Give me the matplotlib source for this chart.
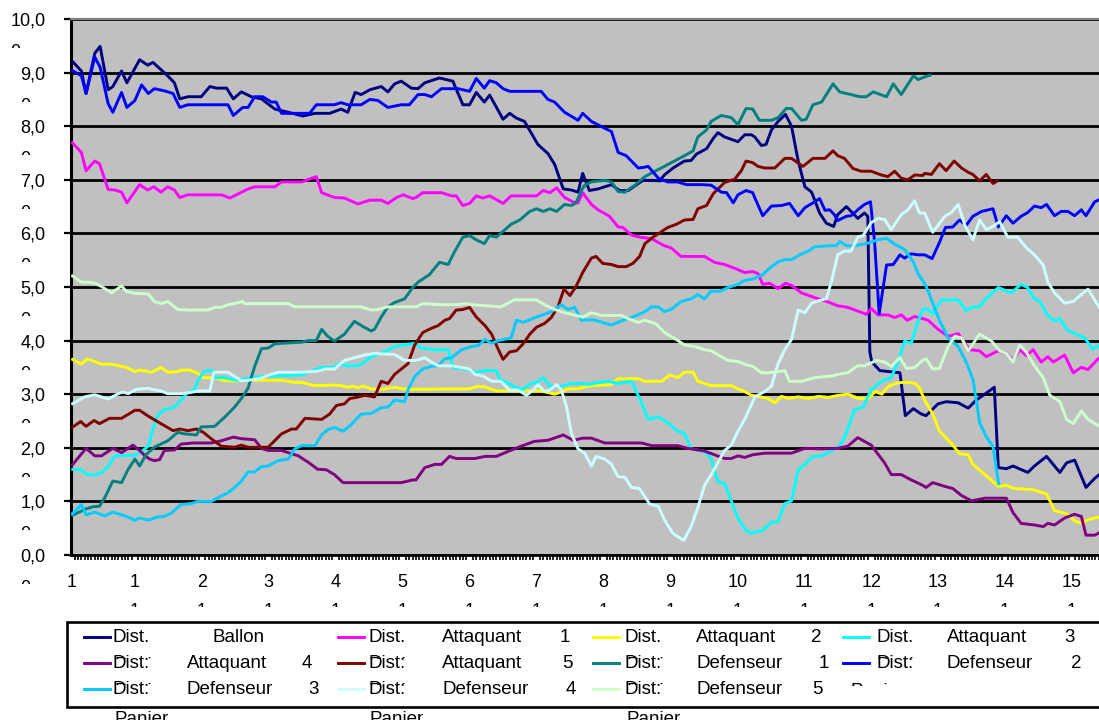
import numpy as np
import matplotlib
matplotlib.use('Agg')
import matplotlib.pyplot as plt
from matplotlib.lines import Line2D
from matplotlib.patches import Rectangle
from matplotlib.transforms import Bbox

W, H = 1099, 720
plt.rcParams['font.family'] = ['Liberation Sans', 'DejaVu Sans']

# (temps, distance) pour chaque joueur
ballon = [(0.05,9.23),(0.20,9.03),(0.27,8.61),(0.40,9.36),(0.48,9.49),(0.60,8.68),(0.67,8.74),(0.80,9.03),(0.88,8.81),
          (1.07,9.24),(1.19,9.14),(1.27,9.19),(1.49,8.94),(1.59,8.81),(1.67,8.51),(1.79,8.55),(1.99,8.55),(2.12,8.74),
          (2.22,8.71),(2.37,8.71),(2.47,8.51),(2.59,8.64),(2.74,8.55),(2.89,8.51),(3.09,8.32),(3.29,8.26),(3.51,8.19),
          (3.69,8.24),(3.91,8.24),(4.08,8.32),(4.18,8.26),(4.29,8.63),(4.38,8.59),(4.51,8.68),(4.68,8.74),(4.78,8.64),
          (4.88,8.79),(4.98,8.84),(5.13,8.71),(5.23,8.70),(5.33,8.81),(5.55,8.90),(5.75,8.84),(5.90,8.40),(6.00,8.40),
          (6.10,8.63),(6.22,8.45),(6.30,8.58),(6.50,8.13),(6.60,8.24),(6.70,8.15),(6.82,8.09),(7.02,7.66),(7.17,7.49),
          (7.27,7.29),(7.40,6.83),(7.52,6.81),(7.62,6.77),(7.69,7.12),(7.79,6.80),(7.92,6.83),(8.12,6.91),(8.24,6.80),
          (8.37,6.80),(8.59,6.99),(8.74,6.99),(8.84,6.98),(8.91,7.09),(9.04,7.22),(9.21,7.35),(9.31,7.36),(9.39,7.48),
          (9.54,7.58),(9.64,7.77),(9.71,7.88),(9.81,7.80),(10.01,7.71),(10.11,7.84),(10.21,7.84),(10.26,7.80),(10.36,7.64),
          (10.43,7.66),(10.51,7.93),(10.61,8.09),(10.72,8.22),(10.81,8.00),(10.91,7.35),(11.01,6.87),(11.11,6.77),
          (11.23,6.38),(11.33,6.19),(11.44,6.13),(11.50,6.35),(11.63,6.50),(11.80,6.28),(11.90,6.38),(11.95,6.32),
          (11.98,3.79),(12.01,3.60),(12.13,3.44),(12.43,3.40),(12.51,2.60),(12.63,2.73),(12.75,2.63),(12.82,2.60),
          (13.00,2.82),(13.12,2.86),(13.30,2.84),(13.45,2.74),(13.57,2.89),(13.72,3.02),(13.84,3.13),(13.90,1.63),
          (14.02,1.61),(14.12,1.66),(14.34,1.54),(14.44,1.66),(14.62,1.84),(14.82,1.54),(14.92,1.72),(15.04,1.77),
          (15.21,1.26),(15.34,1.43),(15.45,1.54)]

attaquant_1 = [(0.05,7.71),(0.20,7.51),(0.27,7.17),(0.40,7.35),(0.47,7.30),(0.60,6.82),(0.70,6.81),(0.80,6.77),(0.88,6.57),
               (1.07,6.91),(1.19,6.81),(1.28,6.87),(1.39,6.77),(1.49,6.87),(1.59,6.81),(1.67,6.67),(1.79,6.72),(1.99,6.72),
               (2.29,6.72),(2.42,6.66),(2.61,6.78),(2.69,6.83),(2.79,6.87),(3.09,6.87),(3.19,6.96),(3.49,6.96),(3.71,7.06),
               (3.79,6.76),(3.98,6.67),(4.13,6.66),(4.33,6.55),(4.51,6.62),(4.68,6.62),(4.78,6.56),(4.91,6.67),(5.01,6.72),
               (5.15,6.65),(5.20,6.67),(5.30,6.76),(5.58,6.76),(5.73,6.70),(5.80,6.70),(5.90,6.52),(6.00,6.56),(6.10,6.70),
               (6.20,6.66),(6.30,6.70),(6.50,6.56),(6.62,6.70),(7.00,6.70),(7.10,6.80),(7.20,6.76),(7.30,6.85),(7.42,6.67),
               (7.57,6.57),(7.62,6.57),(7.69,6.76),(7.82,6.54),(7.92,6.44),(8.09,6.32),(8.22,6.12),(8.29,6.11),(8.42,5.97),
               (8.54,5.93),(8.72,5.90),(8.91,5.77),(9.01,5.73),(9.16,5.57),(9.51,5.57),(9.66,5.46),(9.81,5.42),(9.96,5.35),
               (10.11,5.27),(10.23,5.29),(10.31,5.25),(10.38,5.05),(10.48,5.07),(10.61,4.97),(10.72,5.07),(10.81,5.03),
               (10.96,4.89),(11.16,4.80),(11.36,4.72),(11.50,4.65),(11.65,4.62),(11.78,4.56),(11.93,4.49),(12.00,4.60),
               (12.10,4.48),(12.25,4.48),(12.35,4.43),(12.45,4.48),(12.54,4.38),(12.65,4.45),(12.77,4.41),(12.85,4.38),
               (13.00,4.21),(13.15,4.08),(13.30,4.13),(13.47,3.83),(13.62,3.81),(13.72,3.70),(13.90,3.81),(14.02,3.76),
               (14.12,3.63),(14.22,3.83),(14.32,3.72),(14.42,3.83),(14.54,3.60),(14.64,3.70),(14.72,3.60),(14.89,3.73),
               (15.02,3.40),(15.14,3.50),(15.24,3.46),(15.39,3.66),(15.45,3.70)]

attaquant_2 = [(0.05,3.66),(0.20,3.56),(0.29,3.66),(0.50,3.56),(0.65,3.56),(0.87,3.50),(1.00,3.42),(1.07,3.45),(1.25,3.41),
               (1.39,3.50),(1.49,3.41),(1.64,3.42),(1.69,3.45),(1.82,3.45),(1.94,3.39),(2.02,3.31),(2.22,3.30),(2.34,3.25),
               (2.49,3.25),(2.64,3.26),(2.99,3.26),(3.19,3.26),(3.39,3.22),(3.49,3.22),(3.69,3.16),(4.03,3.17),(4.18,3.13),
               (4.26,3.15),(4.33,3.12),(4.41,3.15),(4.53,3.10),(4.63,3.09),(4.73,3.10),(4.88,3.13),(5.00,3.10),(5.15,3.09),
               (6.00,3.10),(6.10,3.14),(6.22,3.14),(6.33,3.09),(6.42,3.06),(6.82,3.06),(7.07,3.06),(7.27,3.00),(7.37,3.04),
               (7.47,3.10),(7.62,3.10),(7.77,3.15),(8.12,3.18),(8.22,3.29),(8.52,3.29),(8.62,3.24),(8.87,3.24),(8.99,3.36),
               (9.11,3.31),(9.21,3.41),(9.34,3.41),(9.41,3.24),(9.61,3.16),(9.91,3.16),(10.01,3.10),(10.11,3.05),(10.21,2.98),
               (10.31,2.96),(10.46,2.92),(10.56,2.84),(10.66,2.96),(10.76,2.92),(10.91,2.95),(11.06,2.92),(11.21,2.96),
               (11.36,2.94),(11.51,2.98),(11.66,3.00),(11.81,2.92),(11.96,2.92),(12.06,3.05),(12.16,3.00),(12.26,3.15),
               (12.36,3.20),(12.46,3.22),(12.56,3.22),(12.66,3.20),(12.72,3.12),(12.80,2.89),(12.92,2.63),(13.02,2.31),
               (13.20,2.08),(13.32,1.89),(13.45,1.87),(13.52,1.69),(13.70,1.50),(13.90,1.28),(14.02,1.30),(14.14,1.24),
               (14.42,1.22),(14.62,1.14),(14.74,0.83),(14.92,0.77),(15.04,0.64),(15.14,0.59),(15.24,0.66),(15.45,0.72)]

attaquant_3 = [(0.05,1.60),(0.20,1.59),(0.27,1.51),(0.40,1.49),(0.50,1.54),(0.60,1.65),(0.70,1.85),(0.85,1.86),(1.00,1.86),
               (1.12,1.95),(1.20,2.03),(1.27,2.35),(1.32,2.57),(1.42,2.70),(1.59,2.76),(1.69,2.89),(1.77,3.01),(1.89,3.09),
               (1.94,3.26),(2.04,3.43),(2.12,3.45),(2.17,3.42),(2.19,3.31),(2.34,3.31),(2.44,3.28),(2.54,3.26),(2.69,3.30),
               (2.89,3.33),(2.99,3.33),(3.19,3.35),(3.49,3.36),(3.64,3.43),(3.79,3.50),(3.98,3.50),(4.03,3.57),(4.18,3.53),
               (4.33,3.53),(4.43,3.60),(4.53,3.70),(4.73,3.79),(4.88,3.89),(5.03,3.92),(5.18,3.95),(5.28,3.86),(5.48,3.83),
               (5.68,3.83),(5.75,3.50),(5.93,3.47),(6.03,3.44),(6.10,3.40),(6.20,3.44),(6.40,3.44),(6.45,3.28),(6.57,3.21),
               (6.72,3.11),(6.80,3.09),(6.90,3.19),(7.00,3.22),(7.10,3.31),(7.20,3.15),(7.37,3.15),(7.52,3.20),(7.69,3.20),
               (7.77,3.18),(7.92,3.22),(8.07,3.24),(8.22,3.20),(8.42,3.24),(8.54,2.92),(8.67,2.53),(8.82,2.58),(8.96,2.47),
               (9.11,2.31),(9.21,2.27),(9.31,1.98),(9.51,1.93),(9.61,1.80),(9.71,1.37),(9.81,1.33),(9.91,1.01),(10.01,0.69),
               (10.11,0.49),(10.21,0.40),(10.26,0.43),(10.38,0.46),(10.51,0.61),(10.61,0.62),(10.71,0.96),(10.81,1.01),
               (10.91,1.59),(11.01,1.69),(11.13,1.84),(11.26,1.85),(11.41,1.95),(11.50,1.99),(11.60,2.19),(11.68,2.45),
               (11.75,2.71),(11.88,2.76),(12.00,3.08),(12.15,3.24),(12.30,3.31),(12.40,3.60),(12.50,3.99),(12.60,3.95),
               (12.67,4.25),(12.77,4.58),(12.82,4.60),(12.92,4.50),(13.05,4.76),(13.30,4.76),(13.42,4.56),(13.52,4.63),
               (13.62,4.63),(13.70,4.76),(13.90,4.99),(14.09,4.89),(14.24,5.05),(14.34,4.99),(14.42,4.80),(14.52,4.73),
               (14.62,4.50),(14.74,4.36),(14.82,4.41),(14.92,4.21),(15.04,4.13),(15.19,4.05),(15.31,3.84),(15.45,3.95)]

attaquant_4 = [(0.05,1.66),(0.27,1.99),(0.40,1.85),(0.50,1.85),(0.67,1.99),(0.80,1.91),(0.97,2.05),(1.07,1.95),(1.15,1.85),
               (1.22,1.79),(1.29,1.76),(1.37,1.78),(1.44,1.95),(1.59,1.96),(1.69,2.07),(1.87,2.09),(2.14,2.09),(2.29,2.13),
               (2.47,2.20),(2.59,2.17),(2.79,2.15),(2.89,1.99),(2.99,1.95),(3.19,1.95),(3.44,1.85),(3.59,1.73),(3.73,1.60),
               (3.86,1.59),(3.98,1.50),(4.11,1.35),(4.53,1.35),(4.98,1.35),(5.15,1.40),(5.20,1.40),(5.33,1.63),(5.48,1.69),
               (5.58,1.69),(5.70,1.84),(5.80,1.80),(6.08,1.80),(6.23,1.84),(6.40,1.84),(6.57,1.93),(6.77,2.03),(6.97,2.12),
               (7.17,2.14),(7.40,2.24),(7.55,2.14),(7.69,2.18),(7.82,2.18),(8.02,2.09),(8.57,2.09),(8.72,2.04),(9.11,2.04),
               (9.26,1.99),(9.51,1.94),(9.81,1.80),(9.91,1.80),(10.01,1.85),(10.11,1.82),(10.23,1.87),(10.41,1.90),
               (10.81,1.90),(11.01,1.99),(11.26,1.98),(11.50,1.99),(11.65,2.03),(11.80,2.19),(12.00,2.05),(12.20,1.72),
               (12.30,1.50),(12.45,1.50),(12.60,1.40),(12.77,1.30),(12.82,1.26),(12.92,1.35),(13.10,1.28),(13.22,1.24),
               (13.35,1.11),(13.50,1.01),(13.70,1.06),(14.02,1.06),(14.12,0.79),(14.24,0.59),(14.44,0.56),(14.57,0.53),
               (14.64,0.59),(14.74,0.56),(14.89,0.69),(15.04,0.76),(15.14,0.72),(15.21,0.37),(15.34,0.37),(15.45,0.44)]

attaquant_5 = [(0.05,2.37),(0.19,2.49),(0.27,2.40),(0.39,2.51),(0.47,2.45),(0.62,2.55),(0.80,2.55),(1.00,2.70),(1.07,2.70),
               (1.20,2.59),(1.39,2.45),(1.57,2.32),(1.67,2.35),(1.79,2.32),(1.92,2.35),(2.02,2.29),(2.14,2.17),(2.29,2.03),
               (2.49,2.01),(2.59,2.05),(2.69,2.01),(2.99,2.01),(3.19,2.26),(3.34,2.35),(3.41,2.35),(3.54,2.55),(3.79,2.53),
               (3.91,2.63),(4.01,2.79),(4.13,2.82),(4.21,2.92),(4.31,2.94),(4.43,2.98),(4.58,2.95),(4.68,3.24),(4.78,3.20),
               (4.88,3.37),(4.98,3.47),(5.08,3.57),(5.18,3.92),(5.30,4.15),(5.43,4.23),(5.53,4.28),(5.63,4.38),(5.70,4.41),
               (5.80,4.57),(5.90,4.58),(6.00,4.62),(6.10,4.44),(6.23,4.28),(6.33,4.12),(6.42,3.86),(6.50,3.65),(6.60,3.79),
               (6.70,3.81),(6.80,3.94),(6.90,4.12),(7.00,4.25),(7.12,4.32),(7.22,4.43),(7.32,4.63),(7.41,4.96),(7.50,4.84),
               (7.59,5.01),(7.69,5.27),(7.82,5.54),(7.89,5.57),(7.99,5.44),(8.12,5.42),(8.22,5.38),(8.34,5.38),(8.44,5.44),
               (8.54,5.57),(8.62,5.81),(8.74,5.93),(8.84,6.01),(8.96,6.11),(9.09,6.17),(9.21,6.25),(9.34,6.26),(9.41,6.46),
               (9.54,6.52),(9.64,6.74),(9.81,6.95),(9.96,7.01),(10.06,7.17),(10.13,7.35),(10.23,7.32),(10.31,7.25),
               (10.41,7.22),(10.56,7.22),(10.71,7.40),(10.81,7.40),(10.98,7.25),(11.13,7.40),(11.31,7.40),(11.43,7.54),
               (11.50,7.45),(11.60,7.40),(11.73,7.21),(11.85,7.16),(12.00,7.16),(12.15,7.09),(12.25,7.06),(12.35,7.16),
               (12.45,7.03),(12.55,7.00),(12.65,7.09),(12.77,7.08),(12.80,7.12),(12.90,7.10),(13.02,7.30),(13.12,7.17),
               (13.24,7.35),(13.35,7.22),(13.45,7.14),(13.52,7.10),(13.62,6.98),(13.72,7.10),(13.82,6.93),(13.90,6.99)]

defenseur_1 = [(0.05,0.73),(0.20,0.82),(0.27,0.86),(0.37,0.90),(0.47,0.91),(0.55,1.07),(0.67,1.38),(0.80,1.35),(0.90,1.60),
               (1.00,1.79),(1.07,1.66),(1.17,1.88),(1.29,2.01),(1.42,2.09),(1.49,2.13),(1.64,2.29),(1.74,2.26),(1.92,2.24),
               (1.99,2.39),(2.19,2.40),(2.34,2.57),(2.49,2.76),(2.59,2.92),(2.69,3.11),(2.79,3.52),(2.89,3.85),(2.99,3.86),
               (3.09,3.94),(3.19,3.95),(3.49,3.97),(3.59,4.00),(3.71,4.00),(3.79,4.21),(3.88,4.08),(3.98,3.99),(4.13,4.12),
               (4.28,4.36),(4.41,4.26),(4.53,4.18),(4.58,4.21),(4.68,4.44),(4.78,4.63),(4.88,4.71),(5.03,4.78),(5.15,4.99),
               (5.23,5.09),(5.40,5.23),(5.55,5.46),(5.68,5.42),(5.78,5.67),(5.90,5.93),(6.00,5.96),(6.10,5.88),(6.22,5.81),
               (6.30,5.96),(6.40,5.93),(6.52,6.06),(6.62,6.17),(6.75,6.25),(6.90,6.41),(7.00,6.46),(7.10,6.41),(7.20,6.46),
               (7.30,6.41),(7.42,6.54),(7.52,6.52),(7.59,6.57),(7.67,6.80),(7.72,6.90),(7.82,6.96),(8.02,6.99),(8.12,6.96),
               (8.22,6.78),(8.32,6.77),(8.47,6.90),(8.62,7.06),(8.77,7.16),(8.91,7.25),(9.06,7.35),(9.21,7.45),(9.34,7.54),
               (9.41,7.80),(9.54,7.93),(9.61,8.09),(9.76,8.20),(9.91,8.16),(10.01,8.03),(10.13,8.33),(10.23,8.32),
               (10.33,8.11),(10.51,8.11),(10.61,8.16),(10.73,8.33),(10.81,8.33),(10.96,8.11),(11.03,8.13),(11.13,8.40),
               (11.26,8.45),(11.43,8.79),(11.53,8.64),(11.70,8.59),(11.83,8.55),(11.93,8.55),(12.03,8.64),(12.23,8.55),
               (12.33,8.79),(12.45,8.59),(12.63,8.94),(12.70,8.87),(12.80,8.92),(12.90,8.96)]

defenseur_2 = [(0.05,9.05),(0.20,8.94),(0.27,8.61),(0.40,9.29),(0.48,9.10),(0.60,8.42),(0.67,8.26),(0.80,8.63),(0.88,8.35),
               (1.00,8.48),(1.10,8.77),(1.20,8.61),(1.29,8.70),(1.44,8.66),(1.57,8.61),(1.67,8.35),(1.79,8.40),(1.99,8.40),
               (2.39,8.40),(2.47,8.20),(2.61,8.35),(2.69,8.35),(2.79,8.55),(2.91,8.55),(3.04,8.45),(3.11,8.45),(3.19,8.24),
               (3.39,8.24),(3.61,8.24),(3.71,8.40),(3.98,8.40),(4.08,8.44),(4.18,8.40),(4.38,8.40),(4.51,8.50),(4.63,8.48),
               (4.78,8.35),(4.98,8.40),(5.10,8.40),(5.23,8.59),(5.33,8.59),(5.43,8.55),(5.58,8.70),(5.83,8.70),(6.00,8.65),
               (6.10,8.89),(6.22,8.71),(6.30,8.85),(6.40,8.81),(6.50,8.70),(6.60,8.65),(7.07,8.65),(7.17,8.50),(7.27,8.45),
               (7.42,8.26),(7.62,8.11),(7.69,8.24),(7.82,8.09),(7.99,7.98),(8.12,7.90),(8.22,7.51),(8.34,7.45),(8.52,7.22),
               (8.59,7.23),(8.67,7.25),(8.82,7.03),(8.96,6.96),(9.11,6.96),(9.24,6.91),(9.46,6.91),(9.61,6.90),(9.76,6.77),
               (9.84,6.76),(9.94,6.57),(10.01,6.72),(10.13,6.80),(10.23,6.76),(10.26,6.67),(10.38,6.33),(10.51,6.51),
               (10.66,6.52),(10.78,6.56),(10.91,6.33),(11.01,6.48),(11.13,6.57),(11.23,6.65),(11.31,6.43),(11.38,6.44),
               (11.45,6.35),(11.50,6.24),(11.63,6.32),(11.70,6.33),(11.80,6.44),(11.90,6.54),(11.99,6.59),(12.05,5.86),
               (12.12,4.50),(12.23,5.41),(12.33,5.42),(12.43,5.60),(12.50,5.54),(12.60,5.62),(12.70,5.60),(12.80,5.60),
               (12.91,5.53),(13.02,5.83),(13.11,6.11),(13.22,6.12),(13.32,6.25),(13.42,6.15),(13.52,6.32),(13.65,6.41),
               (13.82,6.46),(13.90,6.12),(14.02,6.33),(14.12,6.19),(14.24,6.32),(14.34,6.39),(14.44,6.51),(14.54,6.48),
               (14.62,6.54),(14.74,6.33),(14.84,6.41),(14.94,6.41),(15.04,6.33),(15.14,6.44),(15.21,6.33),(15.34,6.59),
               (15.45,6.65)]

defenseur_3 = [(0.05,0.75),(0.20,0.94),(0.27,0.75),(0.40,0.80),(0.55,0.73),(0.67,0.80),(0.85,0.73),(1.00,0.65),(1.07,0.69),
               (1.20,0.65),(1.34,0.71),(1.44,0.72),(1.54,0.78),(1.69,0.94),(1.84,0.96),(1.94,1.00),(2.14,1.00),(2.29,1.10),
               (2.39,1.16),(2.49,1.26),(2.59,1.38),(2.69,1.55),(2.79,1.55),(2.89,1.65),(2.99,1.66),(3.14,1.76),(3.29,1.79),
               (3.39,1.98),(3.49,2.04),(3.69,2.04),(3.79,2.24),(3.88,2.34),(3.98,2.38),(4.11,2.31),(4.23,2.43),(4.38,2.63),
               (4.53,2.64),(4.68,2.75),(4.78,2.76),(4.88,2.89),(5.03,2.86),(5.08,3.08),(5.18,3.33),(5.30,3.47),(5.43,3.52),
               (5.53,3.53),(5.63,3.66),(5.73,3.68),(5.88,3.83),(6.03,3.89),(6.13,3.91),(6.23,4.02),(6.33,3.95),(6.43,4.00),
               (6.62,4.05),(6.70,4.38),(6.80,4.34),(6.90,4.39),(7.00,4.44),(7.12,4.49),(7.22,4.54),(7.37,4.67),(7.47,4.58),
               (7.57,4.62),(7.67,4.38),(7.84,4.39),(8.12,4.29),(8.29,4.38),(8.44,4.44),(8.62,4.54),(8.72,4.63),(8.82,4.63),
               (8.91,4.54),(9.01,4.58),(9.16,4.73),(9.31,4.78),(9.41,4.86),(9.51,4.78),(9.61,4.92),(9.74,4.92),(9.86,4.99),
               (10.01,5.05),(10.11,5.12),(10.23,5.15),(10.38,5.23),(10.48,5.35),(10.61,5.47),(10.71,5.51),(10.81,5.51),
               (10.93,5.60),(11.06,5.67),(11.16,5.75),(11.36,5.77),(11.48,5.77),(11.53,5.85),(11.63,5.77),(11.75,5.77),
               (11.93,5.81),(12.10,5.88),(12.23,5.91),(12.35,5.80),(12.50,5.70),(12.63,5.47),(12.70,5.25),(12.82,5.02),
               (12.92,4.70),(13.02,4.38),(13.15,4.05),(13.30,3.89),(13.42,3.60),(13.52,3.28),(13.57,2.89),(13.62,2.47),
               (13.72,2.21),(13.82,2.02),(13.91,1.30)]

defenseur_4 = [(0.05,2.81),(0.25,2.95),(0.40,2.99),(0.50,2.95),(0.60,2.91),(0.75,3.01),(0.82,3.04),(0.90,3.01),(1.02,3.09),
               (1.20,3.11),(1.29,3.08),(1.39,3.06),(1.49,3.01),(1.69,3.01),(1.82,3.03),(1.94,3.06),(2.12,3.06),(2.18,3.41),
               (2.39,3.41),(2.49,3.33),(2.59,3.25),(2.69,3.26),(2.89,3.30),(2.99,3.35),(3.14,3.41),(3.49,3.41),(3.74,3.43),
               (3.84,3.47),(3.98,3.47),(4.13,3.63),(4.28,3.68),(4.43,3.73),(4.58,3.76),(4.88,3.74),(5.03,3.63),(5.20,3.63),
               (5.33,3.68),(5.43,3.60),(5.53,3.53),(5.73,3.53),(6.00,3.47),(6.08,3.37),(6.20,3.34),(6.33,3.24),(6.47,3.24),
               (6.60,3.07),(6.72,3.08),(6.85,2.98),(6.95,3.08),(7.02,3.18),(7.12,3.05),(7.20,3.08),(7.30,3.18),(7.37,3.08),
               (7.45,2.76),(7.52,2.27),(7.62,1.98),(7.72,1.90),(7.82,1.66),(7.89,1.84),(8.02,1.79),(8.12,1.69),(8.22,1.46),
               (8.32,1.45),(8.42,1.26),(8.54,1.24),(8.69,0.95),(8.82,0.91),(8.91,0.66),(9.04,0.40),(9.20,0.27),(9.31,0.53),
               (9.41,0.88),(9.51,1.30),(9.61,1.50),(9.71,1.72),(9.81,1.95),(9.91,2.05),(10.01,2.31),(10.11,2.53),
               (10.21,2.80),(10.26,2.95),(10.41,3.05),(10.51,3.15),(10.61,3.57),(10.71,3.83),(10.81,4.02),(10.91,4.57),
               (11.01,4.52),(11.11,4.70),(11.23,4.75),(11.33,4.78),(11.41,5.12),(11.50,5.60),(11.60,5.67),(11.70,5.67),
               (11.80,5.93),(11.88,5.96),(12.00,6.20),(12.10,6.28),(12.20,6.26),(12.30,6.07),(12.45,6.35),(12.55,6.44),
               (12.65,6.61),(12.72,6.38),(12.80,6.38),(12.92,6.02),(13.10,6.32),(13.20,6.39),(13.30,6.54),(13.40,6.15),
               (13.52,5.88),(13.62,6.25),(13.72,6.07),(13.82,6.13),(13.92,6.22),(14.04,5.93),(14.19,5.93),(14.32,5.73),
               (14.44,5.60),(14.57,5.41),(14.64,5.09),(14.74,4.89),(14.89,4.70),(15.02,4.73),(15.14,4.86),(15.24,4.96),
               (15.45,4.54)]

defenseur_5 = [(0.05,5.22),(0.20,5.09),(0.30,5.09),(0.40,5.07),(0.50,5.01),(0.65,4.89),(0.80,5.02),(0.87,4.92),(1.00,4.88),
               (1.20,4.87),(1.29,4.73),(1.39,4.69),(1.49,4.73),(1.64,4.58),(1.79,4.57),(2.09,4.57),(2.19,4.62),(2.29,4.62),
               (2.39,4.67),(2.49,4.69),(2.61,4.73),(2.64,4.69),(3.29,4.69),(3.39,4.63),(4.38,4.63),(4.53,4.57),(4.63,4.58),
               (4.78,4.63),(5.20,4.63),(5.30,4.69),(5.58,4.67),(5.83,4.67),(5.93,4.69),(6.03,4.67),(6.47,4.63),(6.67,4.76),
               (7.00,4.76),(7.12,4.67),(7.27,4.58),(7.42,4.52),(7.52,4.49),(7.69,4.44),(7.82,4.52),(7.97,4.47),(8.27,4.47),
               (8.37,4.41),(8.52,4.34),(8.62,4.38),(8.79,4.31),(8.91,4.15),(9.09,4.02),(9.21,3.92),(9.36,3.89),(9.51,3.83),
               (9.61,3.81),(9.76,3.70),(9.86,3.63),(10.01,3.61),(10.13,3.55),(10.23,3.52),(10.36,3.40),(10.46,3.40),
               (10.61,3.42),(10.71,3.44),(10.78,3.24),(10.96,3.24),(11.16,3.31),(11.41,3.34),(11.50,3.37),(11.65,3.40),
               (11.80,3.53),(11.90,3.53),(12.08,3.63),(12.20,3.60),(12.30,3.52),(12.43,3.68),(12.53,3.48),(12.65,3.50),
               (12.77,3.63),(12.82,3.66),(12.92,3.47),(13.02,3.48),(13.15,3.89),(13.25,4.08),(13.35,4.05),(13.45,3.81),
               (13.62,4.12),(13.80,3.99),(13.92,3.81),(14.02,3.76),(14.12,3.60),(14.22,3.92),(14.32,3.78),(14.44,3.53),
               (14.57,3.31),(14.67,2.98),(14.82,2.86),(14.92,2.53),(15.02,2.45),(15.14,2.69),(15.24,2.53),(15.45,2.37)]

series = [
    ('Ballon', ballon, '#000080'),
    ('Attaquant 1', attaquant_1, '#FF00FF'),
    ('Attaquant 2', attaquant_2, '#FFFF00'),
    ('Attaquant 3', attaquant_3, '#00FFFF'),
    ('Attaquant 4', attaquant_4, '#800080'),
    ('Attaquant 5', attaquant_5, '#800000'),
    ('Defenseur 1', defenseur_1, '#008080'),
    ('Defenseur 2', defenseur_2, '#0000FF'),
    ('Defenseur 3', defenseur_3, '#00CCFF'),
    ('Defenseur 4', defenseur_4, '#CCFFFF'),
    ('Defenseur 5', defenseur_5, '#CCFFCC'),
]

x_ticks = [0.05] + list(range(1, 16))
x_labels = ['1', '1'] + [str(i) for i in range(2, 16)]
y_ticks = list(range(11))
y_labels = ['%d,0' % v for v in y_ticks]

# legend layout: (column line x, "Dist" x, word x, number x) in pixels
leg_cols = [(84, 113), (338, 368), (593, 625), (843, 876)]
leg_rows = [637, 663, 689]
leg_entries = [
    (0, 0, 'Dist.', 'Ballon', 213, '', 0),
    (0, 1, 'Dist.', 'Attaquant', 442, '1', 560),
    (0, 2, 'Dist.', 'Attaquant', 696, '2', 811),
    (0, 3, 'Dist.', 'Attaquant', 947, '3', 1064),
    (1, 0, 'Dist:', 'Attaquant', 187, '4', 302),
    (1, 1, 'Dist:', 'Attaquant', 442, '5', 562),
    (1, 2, 'Dist:', 'Defenseur', 696, '1', 819),
    (1, 3, 'Dist:', 'Defenseur', 947, '2', 1071),
    (2, 0, 'Dist:', 'Defenseur', 187, '3', 308),
    (2, 1, 'Dist:', 'Defenseur', 442, '4', 566),
    (2, 2, 'Dist:', 'Defenseur', 696, '5', 812),
]

fig = plt.figure(figsize=(W / 100, H / 100), dpi=100)
fig.patch.set_facecolor('white')


def fx(px):
    return px / W


def fy(py):
    return 1 - py / H


def clip_band(artist, top, bottom):
    artist.set_clip_on(True)
    artist.set_clip_box(Bbox.from_extents(0, H - bottom, W, H - top))


x0_px, x1_px, y0_px, y1_px = 71, 1106, 555, 19
ax = fig.add_axes([fx(x0_px), fy(y0_px), fx(x1_px) - fx(x0_px), fy(y1_px) - fy(y0_px)])
ax.set_facecolor('#C0C0C0')

for name, pts, col in series:
    arr = np.array(pts)
    ax.plot(arr[:, 0], arr[:, 1], color=col, lw=2.1, label='Dist. ' + name,
            solid_joinstyle='round', solid_capstyle='butt', zorder=3)

ax.set_xlim((x0_px - 68) / 66.93, (x1_px - 68) / 66.93)
ax.set_ylim(0, 10)

ax.set_yticks(y_ticks)
ax.set_yticklabels(y_labels)
ax.set_xticks(x_ticks)
ax.set_xticklabels(x_labels)
ax.set_xticks(np.arange(0.05, 15.5, 0.05), minor=True)

ax.set_axisbelow(True)
ax.yaxis.grid(True, color='black', lw=2.0)
ax.xaxis.grid(False)

ax.tick_params(axis='y', which='major', direction='out', length=5, width=1.6,
               labelsize=13, pad=13.5, colors='black')
ax.tick_params(axis='x', which='major', length=0, labelsize=13, pad=14, colors='black')
ax.tick_params(axis='x', which='minor', direction='out', length=3.5, width=1.2, colors='black')

for side in ['right']:
    ax.spines[side].set_visible(False)
ax.spines['left'].set_linewidth(2.2)
ax.spines['bottom'].set_linewidth(2.0)
ax.spines['top'].set_color('#808080')
ax.spines['top'].set_linewidth(1.6)

# second lines of the wrapped axis labels, mostly hidden
fig.canvas.draw()
renderer = fig.canvas.get_renderer()
for lab in ax.get_yticklabels():
    bb = lab.get_window_extent(renderer)
    cy = H - (bb.y0 + bb.y1) / 2
    t = fig.text(bb.x0 / W, fy(cy + 23), '0', fontsize=13, ha='left', va='top')
    clip_band(t, cy + 23, cy + 27)
for lab in ax.get_xticklabels()[1:]:
    bb = lab.get_window_extent(renderer)
    cx = (bb.x0 + bb.x1) / 2
    t = fig.text(fx(cx), fy(603), '1', fontsize=13, ha='center', va='top')
    clip_band(t, 603, 607)

# legend frame
fig.add_artist(Rectangle((fx(67), fy(707)), fx(1140) - fx(67), fy(622) - fy(707),
                         transform=fig.transFigure, facecolor='white',
                         edgecolor='black', lw=1.9))

colors = [c for _, _, c in series]
for k, (row, col, dist, word, wx, num, nx) in enumerate(leg_entries):
    lx, dx = leg_cols[col]
    py = leg_rows[row]
    fig.add_artist(Line2D([fx(lx), fx(lx + 26)], [fy(py), fy(py)], color=colors[k],
                          lw=2.1, transform=fig.transFigure))
    fig.text(fx(dx), fy(py), dist, fontsize=13.5, ha='left', va='center')
    fig.text(fx(wx), fy(py), word, fontsize=13.5, ha='left', va='center')
    if num:
        fig.text(fx(nx), fy(py), num, fontsize=13.5, ha='left', va='center')
    if row > 0:
        t = fig.text(fx(dx + 1), fy(py - 6), 'Panier', fontsize=13.5, ha='left', va='top')
        clip_band(t, py - 6, py - 4)

t = fig.text(fx(850), fy(683), 'Panier', fontsize=13.5, ha='left', va='top')
clip_band(t, 683, 686)
for lx, dx in leg_cols[:3]:
    fig.text(fx(dx + 2), fy(711), 'Panier', fontsize=13.5, ha='left', va='top')

fig.savefig('out.png', dpi=100, facecolor='white')
